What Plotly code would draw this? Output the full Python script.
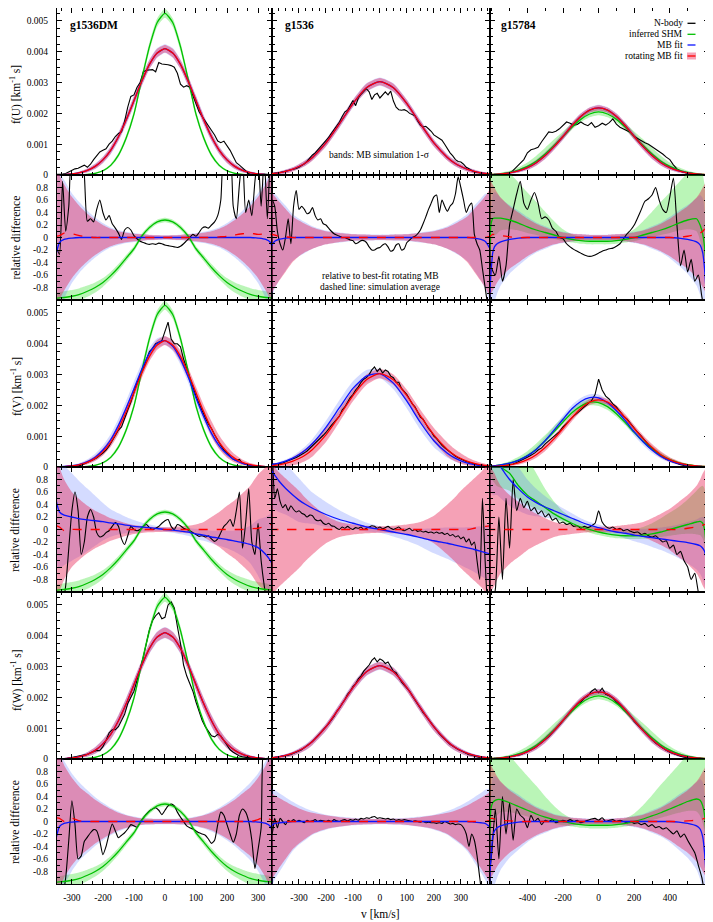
import plotly.graph_objects as go
from plotly.subplots import make_subplots

SCALE = 1e-3   # f values are read in units of 10^-3 km^-1 s

# ── g1536DM (column 1) ───────────────────────────────────────────────────────
X1 = [-350, -340, -325, -300, -275, -250, -225, -200, -175, -150, -125, -100, -75, -50, -25, 0,
      25, 50, 75, 100, 125, 150, 175, 200, 225, 250, 275, 300, 325, 340, 350]
RED_F1 = [0.006, 0.009, 0.015, 0.034, 0.074, 0.15, 0.28, 0.49, 0.80, 1.24, 1.79, 2.41, 3.04, 3.59, 3.96, 4.10,
          3.96, 3.59, 3.04, 2.41, 1.79, 1.24, 0.80, 0.49, 0.28, 0.15, 0.074, 0.034, 0.015, 0.009, 0.006]
GREEN_RD1 = [-0.97, -0.965, -0.96, -0.94, -0.91, -0.86, -0.80, -0.72, -0.61, -0.48, -0.33, -0.18, 0.02, 0.16, 0.25, 0.28,
             0.25, 0.16, 0.02, -0.18, -0.33, -0.48, -0.61, -0.72, -0.80, -0.86, -0.91, -0.94, -0.96, -0.965, -0.97]
GREEN_HW1 = [0.09, 0.09, 0.1, 0.1, 0.1, 0.09, 0.08, 0.07, 0.06, 0.055, 0.05, 0.045, 0.04, 0.04, 0.035, 0.035,
             0.035, 0.04, 0.04, 0.045, 0.05, 0.055, 0.06, 0.07, 0.08, 0.09, 0.1, 0.1, 0.1, 0.09, 0.09]
BLUE_RD1_U = [-0.25, -0.08, -0.03, -0.01, 0, 0, 0, 0, 0, 0, 0, 0, 0, 0, 0, 0,
              0, 0, 0, 0, 0, 0, 0, 0, 0, 0, 0, -0.01, -0.03, -0.08, -0.25]
BLUE_RD1_V = [0.45, 0.28, 0.23, 0.2, 0.17, 0.155, 0.14, 0.125, 0.105, 0.09, 0.07, 0.05, 0.04, 0.03, 0.015, 0.0,
              -0.01, -0.025, -0.04, -0.07, -0.09, -0.12, -0.14, -0.16, -0.185, -0.21, -0.24, -0.29, -0.4, -0.5, -0.6]
PINK1_U = [1.2, 1.0, 0.85, 0.65, 0.5, 0.38, 0.28, 0.2, 0.14, 0.1, 0.075, 0.06, 0.05, 0.04, 0.035, 0.03,
           0.035, 0.04, 0.05, 0.06, 0.075, 0.1, 0.14, 0.2, 0.28, 0.38, 0.5, 0.65, 0.85, 1.0, 1.2]
PINK1_V = [1.2, 1.0, 0.8, 0.6, 0.48, 0.38, 0.3, 0.24, 0.18, 0.14, 0.1, 0.07, 0.055, 0.045, 0.04, 0.035,
           0.04, 0.05, 0.06, 0.08, 0.12, 0.2, 0.28, 0.38, 0.47, 0.58, 0.7, 0.88, 1.0, 1.1, 1.2]
PINK1_W = [1.3, 1.1, 0.9, 0.7, 0.55, 0.45, 0.35, 0.27, 0.2, 0.14, 0.1, 0.07, 0.05, 0.045, 0.04, 0.04,
           0.04, 0.045, 0.05, 0.07, 0.1, 0.14, 0.2, 0.27, 0.35, 0.45, 0.55, 0.7, 0.9, 1.1, 1.3]
BLUEHW1_U = [1.3, 1.1, 0.95, 0.72, 0.56, 0.43, 0.32, 0.23, 0.16, 0.12, 0.09, 0.07, 0.055, 0.045, 0.04, 0.035,
             0.04, 0.045, 0.055, 0.07, 0.09, 0.12, 0.16, 0.23, 0.32, 0.43, 0.56, 0.72, 0.95, 1.1, 1.3]
BLUEHW1_V = [1.0, 0.9, 0.8, 0.7, 0.6, 0.5, 0.4, 0.3, 0.22, 0.17, 0.13, 0.1, 0.07, 0.05, 0.04, 0.035,
             0.04, 0.05, 0.06, 0.08, 0.09, 0.1, 0.12, 0.14, 0.17, 0.22, 0.3, 0.45, 0.6, 0.75, 0.9]
BLUEHW1_W = [1.4, 1.2, 1.0, 0.78, 0.62, 0.5, 0.39, 0.3, 0.22, 0.16, 0.11, 0.08, 0.055, 0.05, 0.045, 0.045,
             0.045, 0.05, 0.055, 0.08, 0.11, 0.16, 0.22, 0.3, 0.39, 0.5, 0.62, 0.78, 1.0, 1.2, 1.4]
DASH1_U = [0.02, 0.03, 0.07, 0.06, 0.03, 0.01, 0, 0, 0, 0, 0, 0, 0, 0, 0, 0,
           0, 0, 0, 0, 0, 0, 0.01, 0.02, 0.04, 0.06, 0.07, 0.05, 0.06, 0.04, 0.1]
DASH1_V = [0.06, 0.04, -0.02, 0.0, 0.0, 0, 0, 0, 0, 0, 0, 0, 0, 0, 0, 0,
           0, 0, 0, 0, 0, 0, 0, 0, 0, 0, 0.01, 0.02, 0.05, 0.08, 0.1]
DASH1_W = [0.06, 0.05, 0.0, 0.05, 0.01, 0, 0, 0, 0, 0, 0, 0, 0, 0, 0, 0,
           0, 0, 0, 0, 0, 0, 0, 0, 0, 0, 0.0, 0.03, 0.08, 0.03, 0.05]

XB1 = list(range(-350, 351, 10))
BLACK_F1_U = [0.02, 0.02, 0.03, 0.05, 0.1, 0.15, 0.2, 0.22, 0.28, 0.32,
              0.25, 0.35, 0.5, 0.62, 0.75, 0.8, 0.85, 1.0, 1.1, 1.25,
              1.35, 1.4, 1.75, 2.2, 2.55, 2.6, 2.85, 3.0, 3.35, 3.4,
              3.4, 3.42, 3.35, 3.65, 3.6, 3.6, 3.58, 3.55, 3.5, 3.3,
              2.95, 2.85, 2.9, 2.85, 2.6, 2.35, 2.05, 1.9, 1.75, 1.6,
              1.45, 1.3, 1.1, 1.05, 1.1, 0.95, 0.8, 0.6, 0.4, 0.32,
              0.22, 0.15, 0.05, 0.0, 0.0, 0.02, 0.02, 0.03, 0.02, 0.01, 0.0]
BLACK_RD1_U = [-0.15, -0.27, 0.9, 0.1, 0.5, 1.3, 1.3, 1.3, 1.3, 1.0,
               0.26, 0.3, 0.25, 0.45, 0.6, 0.4, 0.28, 0.35, 0.22, 0.15,
               0.07, -0.03, 0.12, 0.16, 0.12, 0.03, -0.02, -0.06, -0.08, -0.1,
               -0.11, -0.1, -0.11, -0.09, -0.1, -0.12, -0.13, -0.14, -0.15, -0.16,
               -0.14, -0.1, -0.05, 0.0, 0.05, 0.02, 0.08, 0.15, 0.17, 0.15,
               0.2, 0.25, 0.35, 0.6, 1.3, 1.3, 1.3, 0.5, 0.3, 0.85,
               1.3, 0.4, 0.6, 0.35, 0.9, 1.3, 0.5, 1.3, 0.3, 1.3, -0.1]
BLACK_F1_V = [0, 0, 0, 0, 0.01, 0.02, 0.03, 0.03, 0.06, 0.1,
              0.14, 0.18, 0.24, 0.3, 0.37, 0.45, 0.55, 0.68, 0.85, 1.05,
              1.2, 1.3, 1.6, 1.85, 2.1, 2.4, 2.75, 2.95, 3.2, 3.5,
              3.75, 3.85, 4.0, 4.05, 4.1, 4.4, 4.7, 4.15, 4.0, 4.0,
              3.9, 3.5, 3.2, 2.85, 2.55, 2.3, 2.05, 1.8, 1.6, 1.4,
              1.25, 1.05, 0.85, 0.7, 0.55, 0.45, 0.35, 0.25, 0.22, 0.25,
              0.12, 0.08, 0.06, 0.05, 0.05, 0.03, 0.02, 0.01, 0, 0, 0]
BLACK_RD1_V = [-1.3, -1.3, -1.2, -0.9, -0.3, 0.3, 0.6, 0.3, -0.4, -0.2,
               0.2, 0.32, 0.2, -0.05, -0.12, -0.1, -0.05, -0.02, 0.05, 0.11,
               0.05, -0.15, -0.24, -0.1, 0.05, 0.0, -0.02, 0.0, 0.05, 0.08,
               0.03, 0.0, 0.02, 0.05, 0.1, 0.14, 0.16, 0.05, 0.0, 0.08,
               0.06, 0.02, 0.0, -0.02, -0.05, -0.08, -0.11, -0.1, -0.12, -0.1,
               -0.15, -0.19, -0.15, -0.05, 0.05, 0.1, 0.16, 0.05, 0.3, 0.6,
               -0.3, 0.1, 0.65, -0.2, -0.4, 0.1, -0.5, -0.9, -1.2, -1.3, -1.3]
BLACK_F1_W = [0, 0, 0, 0.01, 0.03, 0.05, 0.08, 0.1, 0.12, 0.13,
              0.15, 0.2, 0.25, 0.28, 0.27, 0.4, 0.6, 0.85, 0.95, 0.95,
              1.05, 1.25, 1.45, 1.8, 2.0, 2.2, 2.55, 2.9, 3.3, 3.75,
              4.2, 4.5, 4.65, 4.75, 4.55, 4.6, 5.0, 5.1, 4.9, 4.3,
              3.75, 3.05, 2.7, 2.45, 2.2, 1.85, 1.55, 1.25, 1.05, 0.9,
              0.75, 0.72, 0.8, 0.75, 0.6, 0.45, 0.3, 0.22, 0.15, 0.1,
              0.07, 0.05, 0.04, 0.03, 0.03, 0.01, 0.0, 0.0, 0.02, 0.0, 0.0]
BLACK_RD1_W = [-1.3, -1.3, -1.2, -0.9, -0.3, 0.33, -0.05, -0.6, -0.55, -0.32,
               -0.25, -0.18, -0.13, -0.15, -0.31, -0.53, -0.4, -0.2, -0.04, -0.15,
               -0.26, -0.22, -0.18, -0.12, -0.05, -0.07, -0.09, -0.02, 0.06, 0.12,
               0.17, 0.2, 0.22, 0.18, 0.11, 0.18, 0.25, 0.28, 0.25, 0.15,
               0.07, 0.0, -0.07, -0.1, -0.12, -0.15, -0.18, -0.2, -0.22, -0.28,
               -0.35, -0.3, -0.05, 0.15, 0.1, -0.05, -0.2, -0.33, -0.2, 0.1,
               0.2, 0.15, 0.0, -0.3, -0.75, -0.45, -0.1, 1.3, 1.3, 1.3, 1.3]

# ── g1536 (column 2) ─────────────────────────────────────────────────────────
X2 = [-410, -400, -390, -375, -350, -325, -300, -275, -250, -200, -150, -100, -50, 0,
      50, 100, 150, 200, 250, 275, 300, 325, 350, 375, 390, 400, 410]
RED_F2 = [0.034, 0.043, 0.053, 0.072, 0.116, 0.18, 0.275, 0.40, 0.57, 1.04, 1.66, 2.32, 2.835, 3.03,
          2.835, 2.32, 1.66, 1.04, 0.57, 0.40, 0.275, 0.18, 0.116, 0.072, 0.053, 0.043, 0.034]
BLUE_RD2_U = [-0.2, -0.12, -0.06, -0.03, -0.01, 0, 0, 0, 0, 0, 0, 0, 0, 0,
              0, 0, 0, 0, 0, 0, 0, 0, -0.01, -0.03, -0.06, -0.12, -0.2]
BLUE_RD2_V = [1.0, 0.93, 0.87, 0.78, 0.66, 0.56, 0.47, 0.4, 0.34, 0.24, 0.16, 0.1, 0.04, 0.0,
              -0.04, -0.08, -0.13, -0.18, -0.22, -0.245, -0.27, -0.295, -0.32, -0.35, -0.37, -0.38, -0.4]
BLUE_RD2_W = [-0.1, -0.06, -0.03, -0.02, -0.01, 0, 0, 0, 0, 0, 0, 0, 0, 0,
              0, 0, 0, 0, 0, 0, 0, 0, -0.01, -0.02, -0.03, -0.06, -0.1]
PINK2_U = [0.8, 0.72, 0.66, 0.58, 0.46, 0.34, 0.27, 0.21, 0.16, 0.1, 0.07, 0.05, 0.045, 0.04,
           0.045, 0.05, 0.07, 0.1, 0.16, 0.21, 0.27, 0.34, 0.46, 0.58, 0.66, 0.72, 0.8]
PINK2_U_LO = [0.95, 0.88, 0.8, 0.7, 0.55, 0.4, 0.3, 0.23, 0.18, 0.11, 0.07, 0.05, 0.045, 0.04,
              0.045, 0.05, 0.07, 0.11, 0.18, 0.23, 0.3, 0.4, 0.55, 0.7, 0.8, 0.88, 0.95]
PINK2_V = [1.1, 1.05, 1.0, 0.92, 0.82, 0.72, 0.62, 0.5, 0.4, 0.22, 0.12, 0.08, 0.06, 0.05,
           0.06, 0.08, 0.12, 0.22, 0.4, 0.5, 0.62, 0.72, 0.82, 0.92, 1.0, 1.05, 1.1]
PINK2_W = [0.48, 0.45, 0.42, 0.38, 0.32, 0.26, 0.21, 0.17, 0.14, 0.1, 0.07, 0.05, 0.045, 0.04,
           0.045, 0.05, 0.07, 0.1, 0.14, 0.17, 0.21, 0.26, 0.32, 0.38, 0.42, 0.45, 0.48]
PINK2_W_LO = [1.0, 0.92, 0.85, 0.75, 0.6, 0.45, 0.35, 0.27, 0.2, 0.12, 0.08, 0.055, 0.045, 0.04,
              0.045, 0.055, 0.08, 0.12, 0.2, 0.27, 0.35, 0.45, 0.6, 0.75, 0.85, 0.92, 1.0]
BLUEHW2_U = [0.9, 0.82, 0.76, 0.66, 0.52, 0.38, 0.3, 0.24, 0.18, 0.11, 0.08, 0.055, 0.05, 0.045,
             0.05, 0.055, 0.08, 0.11, 0.18, 0.24, 0.3, 0.38, 0.52, 0.66, 0.76, 0.82, 0.9]
BLUEHW2_V = [0.65, 0.6, 0.55, 0.5, 0.42, 0.38, 0.35, 0.3, 0.25, 0.2, 0.15, 0.1, 0.07, 0.05,
             0.07, 0.1, 0.14, 0.2, 0.25, 0.28, 0.3, 0.33, 0.36, 0.4, 0.42, 0.45, 0.5]
BLUEHW2_W = [0.62, 0.58, 0.54, 0.48, 0.4, 0.32, 0.26, 0.21, 0.17, 0.11, 0.08, 0.06, 0.05, 0.045,
             0.05, 0.06, 0.08, 0.11, 0.17, 0.21, 0.26, 0.32, 0.4, 0.48, 0.54, 0.58, 0.62]
BLUEHW2_W_LO = [1.05, 0.97, 0.9, 0.8, 0.64, 0.48, 0.37, 0.29, 0.21, 0.13, 0.085, 0.06, 0.05, 0.045,
                0.05, 0.06, 0.085, 0.13, 0.21, 0.29, 0.37, 0.48, 0.64, 0.8, 0.9, 0.97, 1.05]
DASH2_U = [0.06, 0.05, 0.04, 0.02, 0.01, 0, 0, 0, 0, 0, 0, 0, 0, 0,
           0, 0, 0, 0, 0, 0, 0, 0, 0, 0, 0, 0.01, 0.02]
DASH2_V = [0, 0, 0, 0, 0, 0, 0, 0, 0, 0, 0, 0, 0, 0,
           0, 0, 0, 0, 0, 0, 0, 0, 0.02, 0.04, 0.05, 0.055, 0.06]
DASH2_W = [0.02, 0.01, 0, 0, 0, 0, 0, 0, 0, 0, 0, 0, 0, 0,
           0, 0, 0, 0, 0, 0, 0, 0, 0, 0, 0, 0.01, 0.02]

XB2 = list(range(-410, 411, 10))
BLACK_F2_U = [0.03, 0.05, 0.06, 0.07, 0.08, 0.1, 0.12, 0.15, 0.18, 0.18,
              0.21, 0.25, 0.3, 0.36, 0.45, 0.56, 0.65, 0.72, 0.82, 0.9,
              1.0, 1.1, 1.22, 1.35, 1.48, 1.6, 1.72, 1.9, 2.05, 2.1,
              2.25, 2.42, 2.25, 2.5, 2.62, 2.7, 2.8, 2.7, 2.45, 2.6,
              2.65, 2.5, 2.6, 2.7, 2.6, 2.72, 2.4, 2.2, 2.12, 2.1,
              2.12, 2.08, 2.0, 1.95, 1.92, 1.75, 1.62, 1.56, 1.58, 1.5,
              1.42, 1.3, 1.24, 1.2, 1.13, 1.0, 0.85, 0.72, 0.62, 0.5,
              0.44, 0.42, 0.35, 0.25, 0.2, 0.15, 0.1, 0.08, 0.06, 0.05,
              0.04, 0.03, 0.02]
BLACK_RD2_U = [0.55, 0.6, 0.5, 0.1, -0.1, -0.2, 0.0, 0.3, -0.1, 0.5,
               0.75, 0.45, 0.5, 0.45, 0.38, 0.4, 0.48, 0.35, 0.28, 0.3,
               0.22, 0.2, 0.15, 0.1, 0.06, 0.04, 0.02, 0.0, 0.0, -0.02,
               -0.04, -0.05, -0.1, -0.08, -0.05, -0.05, -0.08, -0.15, -0.2, -0.2,
               -0.17, -0.16, -0.12, -0.1, -0.15, -0.22, -0.2, -0.12, -0.1, -0.2,
               -0.18, -0.08, -0.04, 0.0, 0.02, 0.06, 0.12, 0.22, 0.33, 0.45,
               0.55, 0.65, 0.68, 0.4, 0.6, 0.5, 0.42, 0.5, 0.55, 0.7,
               0.97, 0.8, 0.6, 0.4, 0.5, 0.55, 0.05, -0.1, -0.2, -0.5,
               -0.8, -1.1, -1.3]
BLACK_F2_V = [0.08, 0.1, 0.09, 0.1, 0.12, 0.13, 0.17, 0.2, 0.23, 0.27,
              0.31, 0.36, 0.4, 0.46, 0.52, 0.6, 0.7, 0.78, 0.86, 0.95,
              1.03, 1.12, 1.25, 1.35, 1.45, 1.55, 1.65, 1.85, 1.95, 2.1,
              2.25, 2.35, 2.5, 2.6, 2.75, 2.85, 2.9, 3.0, 3.15, 3.25,
              3.1, 3.2, 3.05, 3.15, 3.1, 2.95, 2.9, 2.75, 2.75, 2.55,
              2.45, 2.35, 2.2, 2.05, 1.95, 1.8, 1.62, 1.55, 1.38, 1.25,
              1.15, 1.0, 0.92, 0.8, 0.7, 0.62, 0.55, 0.48, 0.4, 0.35,
              0.3, 0.25, 0.22, 0.18, 0.15, 0.12, 0.1, 0.08, 0.05, 0.06,
              0.02, 0.01, 0.0]
BLACK_RD2_V = [1.3, 1.2, 0.5, 0.65, 0.45, 0.35, 0.4, 0.3, 0.38, 0.32,
               0.28, 0.3, 0.26, 0.24, 0.2, 0.23, 0.22, 0.16, 0.14, 0.15,
               0.1, 0.08, 0.1, 0.06, 0.05, 0.02, 0.0, 0.04, 0.02, 0.05,
               0.02, 0.0, 0.03, 0.02, 0.04, 0.0, 0.02, 0.04, 0.06, 0.05,
               0.02, 0.04, 0.01, 0.03, 0.05, 0.02, 0.0, 0.02, 0.04, 0.0,
               -0.02, 0.0, 0.02, -0.02, 0.0, -0.03, -0.02, -0.04, -0.03, -0.05,
               -0.04, -0.06, -0.04, -0.06, -0.05, -0.08, -0.06, -0.1, -0.08, -0.12,
               -0.1, -0.15, -0.12, -0.2, -0.15, -0.25, -0.2, -0.5, -0.8, 0.5,
               -0.5, -1.2, -1.3]
BLACK_F2_W = [0.03, 0.04, 0.05, 0.06, 0.07, 0.09, 0.1, 0.12, 0.15, 0.19,
              0.22, 0.27, 0.3, 0.37, 0.43, 0.5, 0.57, 0.66, 0.75, 0.85,
              0.93, 1.05, 1.15, 1.27, 1.38, 1.55, 1.65, 1.8, 1.92, 2.1,
              2.2, 2.35, 2.45, 2.6, 2.7, 2.85, 2.95, 3.05, 3.2, 3.28,
              3.15, 3.25, 3.2, 3.1, 3.15, 3.0, 2.85, 2.8, 2.65, 2.5,
              2.4, 2.3, 2.2, 2.05, 1.9, 1.78, 1.65, 1.5, 1.4, 1.28,
              1.15, 1.02, 0.92, 0.82, 0.73, 0.64, 0.56, 0.48, 0.42, 0.36,
              0.31, 0.27, 0.22, 0.18, 0.14, 0.12, 0.09, 0.07, 0.05, 0.03,
              0.02, 0.02, 0.01]
BLACK_RD2_W = [-0.15, -0.2, 0.05, -0.1, 0.05, 0.0, -0.05, 0.02, 0.0, 0.03,
               0.0, 0.02, 0.0, -0.02, 0.02, 0.0, 0.01, 0.03, 0.0, 0.02,
               0.01, 0.0, 0.02, 0.0, 0.03, 0.01, 0.0, 0.02, 0.03, 0.01,
               0.03, 0.02, 0.04, 0.02, 0.05, 0.04, 0.06, 0.05, 0.07, 0.08,
               0.05, 0.06, 0.05, 0.04, 0.05, 0.03, 0.04, 0.02, 0.03, 0.02,
               0.03, 0.02, 0.01, 0.0, 0.01, 0.0, -0.01, 0.0, -0.02, -0.01,
               -0.02, -0.02, -0.03, -0.02, -0.03, 0.0, -0.02, -0.04, -0.03, -0.05,
               -0.04, -0.05, -0.1, -0.2, -0.4, -0.2, -0.3, -0.55, -0.9, -1.2,
               -1.3, -1.3, -1.3]

# ── g15784 (column 3) ────────────────────────────────────────────────────────
X3 = [-630, -615, -605, -595, -585, -570, -550, -500, -450, -400, -350, -300, -250, -200, -150, -100, -50, 0,
      50, 100, 150, 200, 250, 300, 350, 400, 450, 500, 550, 570, 585, 595, 605, 615, 630]
RED_F3 = [0.009, 0.0116, 0.0137, 0.016, 0.019, 0.024, 0.033, 0.068, 0.132, 0.238, 0.40, 0.63, 0.92, 1.25, 1.60, 1.90, 2.106, 2.18,
          2.106, 1.90, 1.60, 1.25, 0.92, 0.63, 0.40, 0.238, 0.132, 0.068, 0.033, 0.024, 0.019, 0.016, 0.0137, 0.0116, 0.009]
GREEN_RD3_U = [-1.0, -0.5, 0.2, 0.3, 0.31, 0.31, 0.31, 0.28, 0.23, 0.17, 0.12, 0.08, 0.04, 0.0, -0.03, -0.05, -0.06, -0.06,
               -0.06, -0.05, -0.03, 0.0, 0.04, 0.08, 0.12, 0.17, 0.23, 0.28, 0.3, 0.2, 0.05, -0.15, -0.45, -0.8, -1.0]
GREEN_HI3_U = [1.0, 1.0, 1.0, 1.0, 0.95, 0.9, 0.85, 0.75, 0.65, 0.55, 0.45, 0.33, 0.22, 0.13, 0.08, 0.06, 0.05, 0.05,
               0.05, 0.06, 0.08, 0.13, 0.22, 0.33, 0.45, 0.55, 0.65, 0.75, 0.85, 0.9, 0.95, 1.0, 1.0, 1.0, 1.0]
GREEN_LO3_U = [0.4, 0.4, 0.35, 0.3, 0.28, 0.25, 0.2, 0.15, 0.12, 0.1, 0.08, 0.07, 0.06, 0.06, 0.05, 0.05, 0.05, 0.05,
               0.05, 0.05, 0.05, 0.06, 0.06, 0.07, 0.08, 0.1, 0.12, 0.15, 0.2, 0.25, 0.28, 0.3, 0.35, 0.4, 0.4]
GREEN_RD3_V = [1.5, 1.4, 1.3, 1.2, 1.15, 1.05, 1.0, 0.9, 0.7, 0.55, 0.45, 0.35, 0.25, 0.17, 0.1, 0.04, 0.0, -0.04,
               -0.07, -0.09, -0.1, -0.1, -0.09, -0.07, -0.04, 0.0, 0.04, 0.08, 0.12, 0.13, 0.1, 0.0, -0.3, -0.7, -1.0]
GREEN_HI3_V = [1.0, 1.0, 1.0, 1.0, 1.0, 1.0, 1.0, 0.9, 0.8, 0.6, 0.45, 0.3, 0.2, 0.12, 0.08, 0.06, 0.05, 0.05,
               0.05, 0.06, 0.08, 0.1, 0.13, 0.17, 0.22, 0.27, 0.32, 0.4, 0.5, 0.55, 0.6, 0.65, 0.7, 0.75, 0.8]
GREEN_LO3_V = [0.5, 0.5, 0.45, 0.42, 0.4, 0.36, 0.33, 0.28, 0.22, 0.16, 0.12, 0.09, 0.07, 0.06, 0.05, 0.05, 0.05, 0.05,
               0.05, 0.05, 0.05, 0.05, 0.06, 0.07, 0.08, 0.1, 0.12, 0.15, 0.2, 0.22, 0.25, 0.28, 0.3, 0.35, 0.4]
GREEN_RD3_W = [-1.0, -0.5, 0.2, 0.3, 0.33, 0.35, 0.35, 0.3, 0.24, 0.18, 0.12, 0.07, 0.03, 0.0, -0.03, -0.05, -0.06, -0.06,
               -0.06, -0.05, -0.03, 0.0, 0.04, 0.09, 0.14, 0.2, 0.26, 0.32, 0.36, 0.34, 0.25, 0.1, -0.3, -0.7, -1.0]
BLUE_RD3_U = [-1.2, -1.0, -0.6, -0.25, -0.15, -0.1, -0.07, -0.03, -0.01, 0, 0, 0, 0, 0, 0, 0, 0, 0,
              0, 0, 0, 0, 0, 0, 0, 0, -0.01, -0.03, -0.07, -0.12, -0.25, -0.5, -0.9, -1.1, -1.3]
BLUE_RD3_V = [1.5, 1.4, 1.3, 1.2, 1.15, 1.1, 1.0, 0.8, 0.65, 0.52, 0.43, 0.36, 0.3, 0.24, 0.18, 0.12, 0.07, 0.03,
              -0.01, -0.04, -0.06, -0.09, -0.11, -0.13, -0.15, -0.17, -0.19, -0.21, -0.24, -0.26, -0.3, -0.35, -0.5, -0.8, -1.1]
PINK3_U = [1.1, 1.0, 0.9, 0.85, 0.8, 0.72, 0.64, 0.5, 0.4, 0.3, 0.22, 0.16, 0.11, 0.08, 0.06, 0.05, 0.04, 0.04,
           0.04, 0.05, 0.06, 0.08, 0.11, 0.16, 0.22, 0.3, 0.4, 0.5, 0.64, 0.72, 0.8, 0.85, 0.9, 1.0, 1.1]
PINK3_V = [1.2, 1.1, 1.0, 0.95, 0.9, 0.8, 0.7, 0.55, 0.44, 0.33, 0.25, 0.18, 0.12, 0.09, 0.07, 0.055, 0.045, 0.045,
           0.045, 0.055, 0.07, 0.09, 0.12, 0.18, 0.25, 0.33, 0.44, 0.55, 0.7, 0.8, 0.9, 0.95, 1.0, 1.1, 1.2]
BLUEHW3_U = [1.2, 1.1, 1.0, 0.94, 0.88, 0.8, 0.7, 0.55, 0.44, 0.33, 0.24, 0.18, 0.12, 0.09, 0.065, 0.055, 0.045, 0.045,
             0.045, 0.055, 0.065, 0.09, 0.12, 0.18, 0.24, 0.33, 0.44, 0.55, 0.7, 0.8, 0.88, 0.94, 1.0, 1.1, 1.2]
BLUEHW3_V = [0.8, 0.75, 0.7, 0.65, 0.6, 0.55, 0.5, 0.42, 0.35, 0.28, 0.22, 0.17, 0.13, 0.1, 0.08, 0.06, 0.05, 0.05,
             0.05, 0.06, 0.08, 0.1, 0.12, 0.15, 0.18, 0.22, 0.27, 0.33, 0.4, 0.45, 0.5, 0.55, 0.6, 0.65, 0.7]
DASH3_U = [0.0, 0.0, 0.03, 0.05, 0.05, 0.04, 0.03, 0.01, 0, 0, 0, 0, 0, 0, 0, 0, 0, 0,
           0, 0, 0, 0, 0, 0, 0, 0, 0, 0.02, 0.05, 0.07, 0.1, 0.13, 0.15, 0.17, 0.18]
DASH3_V = [0, 0, 0, 0, 0, 0, 0, 0, 0, 0, 0, 0, 0, 0, 0, 0, 0, 0,
           0, 0, 0, 0, 0, 0, 0, 0, 0, 0.02, 0.04, 0.05, 0.07, 0.08, 0.09, 0.1, 0.1]
DASH3_W = [0.05, 0.05, 0.05, 0.05, 0.04, 0.03, 0.02, 0.01, 0, 0, 0, 0, 0, 0, 0, 0, 0, 0,
           0, 0, 0, 0, 0, 0, 0, 0, 0, 0.01, 0.02, 0.03, 0.04, 0.05, 0.05, 0.05, 0.05]

XB3 = list(range(-620, 621, 20))
BLACK_F3_U = [0, 0, 0, 0.01, 0.02, 0.04, 0.06, 0.15, 0.27, 0.38,
              0.5, 0.72, 0.82, 0.85, 0.9, 1.08, 1.25, 1.4, 1.38, 1.42,
              1.5, 1.62, 1.72, 1.68, 1.62, 1.64, 1.72, 1.65, 1.6, 1.7,
              1.55, 1.6, 1.68, 1.62, 1.7, 1.82, 1.65, 1.55, 1.5, 1.45,
              1.38, 1.25, 1.18, 1.12, 1.05, 1.0, 0.92, 0.85, 0.75, 0.68,
              0.58, 0.5, 0.33, 0.2, 0.12, 0.08, 0.05, 0.03, 0.02, 0.01,
              0.0, 0.0, 0.0]
BLACK_RD3_U = [-0.3, -0.5, -0.6, -0.3, -0.7, -0.45, 0.2, 0.45, 0.7, 0.9,
               0.55, 0.45, 0.6, 0.72, 0.55, 0.3, 0.33, 0.28, 0.15, 0.1,
               0.0, -0.02, -0.1, -0.15, -0.19, -0.22, -0.25, -0.28, -0.3, -0.3,
               -0.28, -0.25, -0.22, -0.2, -0.18, -0.17, -0.14, -0.1, -0.02, 0.06,
               0.12, 0.2, 0.32, 0.45, 0.58, 0.62, 0.68, 0.8, 0.6, 0.45,
               0.4, 0.65, 0.95, 0.2, -0.45, -0.2, -0.55, -0.35, -0.7, -0.6,
               -0.95, -1.2, -1.3]
BLACK_F3_V = [0, 0.0, 0.01, 0.02, 0.03, 0.05, 0.08, 0.1, 0.15, 0.2,
              0.25, 0.32, 0.38, 0.45, 0.55, 0.62, 0.75, 0.85, 0.95, 1.05,
              1.15, 1.3, 1.42, 1.55, 1.65, 1.75, 1.85, 1.95, 2.05, 2.15,
              2.35, 2.85, 2.5, 2.3, 2.2, 2.05, 1.95, 1.8, 1.65, 1.55,
              1.4, 1.25, 1.12, 1.0, 0.85, 0.72, 0.6, 0.5, 0.4, 0.32,
              0.25, 0.2, 0.15, 0.1, 0.07, 0.05, 0.03, 0.02, 0.01, 0.01,
              0, 0, 0]
BLACK_RD3_V = [-1.3, -1.2, -0.96, 0.2, -0.8, 0.5, -0.3, 0.8, 0.3, 0.5,
               0.35, 0.45, 0.3, 0.35, 0.25, 0.3, 0.2, 0.25, 0.15, 0.18,
               0.1, 0.12, 0.08, 0.1, 0.05, 0.06, 0.02, 0.05, 0.03, 0.06,
               0.1, 0.3, 0.12, 0.05, 0.02, 0.04, 0.0, 0.02, -0.02, 0.0,
               -0.03, -0.05, -0.04, -0.08, -0.06, -0.1, -0.12, -0.1, -0.15, -0.2,
               -0.18, -0.3, -0.25, -0.4, -0.35, -0.5, -0.6, -0.8, -0.7, -1.0,
               -1.2, -1.3, -1.3]
BLACK_F3_W = [0, 0, 0.01, 0.02, 0.03, 0.05, 0.07, 0.08, 0.1, 0.14,
              0.19, 0.24, 0.3, 0.36, 0.45, 0.53, 0.63, 0.73, 0.85, 0.98,
              1.1, 1.25, 1.38, 1.52, 1.62, 1.78, 1.85, 1.98, 2.05, 2.2,
              2.28, 2.15, 2.3, 2.1, 2.05, 1.98, 1.85, 1.75, 1.6, 1.5,
              1.38, 1.22, 1.1, 0.97, 0.85, 0.72, 0.62, 0.52, 0.43, 0.35,
              0.28, 0.22, 0.17, 0.12, 0.09, 0.06, 0.04, 0.03, 0.02, 0.01,
              0.01, 0, 0]
BLACK_RD3_W = [-1.0, -0.5, 0.2, -0.6, 0.4, -0.2, 0.3, -0.3, 0.2, 0.1,
               0.05, -0.1, 0.1, 0.0, 0.05, -0.05, 0.02, 0.0, 0.03, -0.02,
               0.0, 0.02, 0.0, 0.03, 0.0, 0.02, -0.02, 0.0, 0.02, 0.04,
               0.05, 0.02, 0.06, 0.0, 0.02, 0.03, 0.0, 0.02, 0.0, -0.02,
               0.0, -0.03, -0.02, -0.05, -0.03, -0.08, -0.05, -0.1, -0.08, -0.12,
               -0.1, -0.15, -0.2, -0.15, -0.25, -0.2, -0.3, -0.4, -0.5, -0.7,
               -0.9, -1.2, -1.3]

# ── Styling ──────────────────────────────────────────────────────────────────
FONT = "Liberation Serif, Times New Roman, serif"
C_BLACK = "#000000"
C_GREEN = "#00c000"
C_BLUE = "#0a14ff"
C_RED = "#ff0000"
B_GREEN = "rgba(40,225,30,0.32)"
B_BLUE = "rgba(60,90,255,0.22)"
B_RED = "rgba(230,30,80,0.42)"

COLUMNS = [
    dict(x=X1, xb=XB1, red=RED_F1, xrange=[-348, 345], ticks=[-300, -200, -100, 0, 100, 200, 300], minor=100 / 3,
         comps=[
             dict(g=GREEN_RD1, ghi=GREEN_HW1, glo=GREEN_HW1, b=BLUE_RD1_U, bhw=BLUEHW1_U, p=PINK1_U,
                  d=DASH1_U, bf=BLACK_F1_U, brd=BLACK_RD1_U),
             dict(g=GREEN_RD1, ghi=GREEN_HW1, glo=GREEN_HW1, b=BLUE_RD1_V, bhw=BLUEHW1_V, p=PINK1_V,
                  d=DASH1_V, bf=BLACK_F1_V, brd=BLACK_RD1_V),
             dict(g=GREEN_RD1, ghi=GREEN_HW1, glo=GREEN_HW1, b=BLUE_RD1_U, bhw=BLUEHW1_W, p=PINK1_W,
                  d=DASH1_W, bf=BLACK_F1_W, brd=BLACK_RD1_W),
         ]),
    dict(x=X2, xb=XB2, red=RED_F2, xrange=[-400, 408], ticks=[-300, -200, -100, 0, 100, 200, 300], minor=25,
         comps=[
             dict(g=None, b=BLUE_RD2_U, bhw=BLUEHW2_U, p=PINK2_U, plo=PINK2_U_LO, d=DASH2_U,
                  bf=BLACK_F2_U, brd=BLACK_RD2_U),
             dict(g=None, b=BLUE_RD2_V, bhw=BLUEHW2_V, p=PINK2_V, d=DASH2_V, bf=BLACK_F2_V, brd=BLACK_RD2_V),
             dict(g=None, b=BLUE_RD2_W, bhw=BLUEHW2_W, blo=BLUEHW2_W_LO, p=PINK2_W, plo=PINK2_W_LO, d=DASH2_W,
                  bf=BLACK_F2_W, brd=BLACK_RD2_W),
         ]),
    dict(x=X3, xb=XB3, red=RED_F3, xrange=[-610, 620], ticks=[-400, -200, 0, 200, 400], minor=100,
         comps=[
             dict(g=GREEN_RD3_U, ghi=GREEN_HI3_U, glo=GREEN_LO3_U, b=BLUE_RD3_U, bhw=BLUEHW3_U, p=PINK3_U,
                  d=DASH3_U, bf=BLACK_F3_U, brd=BLACK_RD3_U),
             dict(g=GREEN_RD3_V, ghi=GREEN_HI3_V, glo=GREEN_LO3_V, b=BLUE_RD3_V, bhw=BLUEHW3_V, p=PINK3_V,
                  d=DASH3_V, bf=BLACK_F3_V, brd=BLACK_RD3_V),
             dict(g=GREEN_RD3_W, ghi=GREEN_HI3_U, glo=GREEN_LO3_U, b=BLUE_RD3_U, bhw=BLUEHW3_U, p=PINK3_U,
                  d=DASH3_W, bf=BLACK_F3_W, brd=BLACK_RD3_W),
         ]),
]

# pixel frame of the plotting area inside the 713 x 922 window;
# the page body adds an 8 px margin, so the figure itself is 8 px smaller
PAGE = 8
L, R, T, B = 57, 709, 8, 884
W_FIG, H_FIG = 713 - PAGE, 922 - PAGE


def px(x):
    return (x - L) / (R - L)


def py(y):
    return (B - y) / (B - T)


fig = make_subplots(rows=6, cols=3, horizontal_spacing=0, vertical_spacing=0,
                    row_heights=[167, 125, 167, 125, 167, 125],
                    column_widths=[215, 218, 219])


def band(x, upper, lower, colour, row, col):
    fig.add_trace(go.Scatter(
        x=list(x) + list(x)[::-1], y=list(upper) + list(lower)[::-1],
        mode="lines", fill="toself", fillcolor=colour,
        line=dict(width=0, shape="spline", smoothing=0.6), hoverinfo="skip",
    ), row=row, col=col)


def line(x, y, colour, row, col, width=1.3, dash=None, shape="spline"):
    fig.add_trace(go.Scatter(
        x=x, y=y, mode="lines",
        line=dict(color=colour, width=width, dash=dash, shape=shape, smoothing=0.6),
        hoverinfo="skip",
    ), row=row, col=col)


for ci, colspec in enumerate(COLUMNS, start=1):
    x, xb, red = colspec["x"], colspec["xb"], colspec["red"]
    zero = [0.0] * len(x)
    for k, comp in enumerate(colspec["comps"]):
        rf, rr = 2 * k + 1, 2 * k + 2
        g, b, p = comp["g"], comp["b"], comp["p"]
        plo = comp.get("plo", p)
        bhi = comp["bhw"]
        blo = comp.get("blo", bhi)

        def f_of(rel):
            return [r * SCALE * (1 + v) for r, v in zip(red, rel)]

        def f_band(mid, hi, lo):
            up = [r * SCALE * (1 + m + h) for r, m, h in zip(red, mid, hi)]
            dn = [max(0.0, r * SCALE * (1 + m - l)) for r, m, l in zip(red, mid, lo)]
            return up, dn

        # ── distribution panel ──
        if g is not None:
            band(x, *f_band(g, comp["ghi"], comp["glo"]), B_GREEN, rf, ci)
        band(x, *f_band(b, bhi, blo), B_BLUE, rf, ci)
        band(x, *f_band(zero, p, plo), B_RED, rf, ci)
        line(xb, [v * SCALE for v in comp["bf"]], C_BLACK, rf, ci, width=1.1, shape="linear")
        if g is not None:
            line(x, f_of(g), C_GREEN, rf, ci)
        line(x, f_of(b), C_BLUE, rf, ci)
        line(x, [r * SCALE for r in red], C_RED, rf, ci)

        # ── relative difference panel ──
        if g is not None:
            band(x, [m + h for m, h in zip(g, comp["ghi"])],
                 [m - h for m, h in zip(g, comp["glo"])], B_GREEN, rr, ci)
        band(x, [m + h for m, h in zip(b, bhi)],
             [m - h for m, h in zip(b, blo)], B_BLUE, rr, ci)
        band(x, p, [-h for h in plo], B_RED, rr, ci)
        line(xb, comp["brd"], C_BLACK, rr, ci, width=1.1)
        if g is not None:
            line(x, g, C_GREEN, rr, ci)
        line(x, b, C_BLUE, rr, ci)
        line(x, comp["d"], C_RED, rr, ci, dash="dash")

# ── Axes ─────────────────────────────────────────────────────────────────────
axis_common = dict(showline=True, linecolor="black", linewidth=1, mirror="allticks",
                   ticks="inside", ticklen=5, tickcolor="black", showgrid=False, zeroline=False,
                   tickfont=dict(family=FONT, size=9.5, color="black"))
RD_TICKS = [-0.8, -0.6, -0.4, -0.2, 0, 0.2, 0.4, 0.6, 0.8]
F_TICKS = [0, 0.001, 0.002, 0.003, 0.004, 0.005]

for ci, colspec in enumerate(COLUMNS, start=1):
    for r in range(1, 7):
        fig.update_xaxes(range=colspec["xrange"], tickvals=colspec["ticks"],
                         ticktext=[str(t) for t in colspec["ticks"]],
                         showticklabels=(r == 6), ticklabelstandoff=5,
                         minor=dict(ticks="inside", ticklen=3, dtick=colspec["minor"], tick0=0,
                                    tickcolor="black"),
                         row=r, col=ci, **axis_common)
        if r % 2 == 1:
            fig.update_yaxes(range=[0, 0.00542], tickvals=F_TICKS,
                             ticktext=["0", "0.001", "0.002", "0.003", "0.004", "0.005"],
                             minor=dict(ticks="inside", ticklen=3, dtick=0.00025, tick0=0, tickcolor="black"),
                             showticklabels=(ci == 1), ticklabelstandoff=6,
                             row=r, col=ci, **axis_common)
        else:
            fig.update_yaxes(range=[-1, 1], tickvals=RD_TICKS,
                             ticktext=["-0.8", "-0.6", "-0.4", "-0.2", "0", "0.2", "0.4", "0.6", "0.8"],
                             minor=dict(ticks="inside", ticklen=3, dtick=0.1, tick0=0, tickcolor="black"),
                             showticklabels=(ci == 1), ticklabelstandoff=6,
                             row=r, col=ci, **axis_common)

# ── Text ─────────────────────────────────────────────────────────────────────
ann = []


def text(x, y, s, size=9.5, anchor="center", angle=0, bold=False):
    ann.append(dict(x=px(x), y=py(y), xref="paper", yref="paper", text=f"<b>{s}</b>" if bold else s,
                    showarrow=False, xanchor=anchor, yanchor="middle", textangle=angle,
                    font=dict(family=FONT, size=size, color="black")))


text(68, 25, "g1536DM", size=11.5, anchor="left", bold=True)
text(283, 25, "g1536", size=11.5, anchor="left", bold=True)
text(499, 25, "g15784", size=11.5, anchor="left", bold=True)
text(379, 155, "bands: MB simulation 1-σ")
text(380, 276.5, "relative to best-fit rotating MB")
text(380, 287, "dashed line: simulation average")
for name, yy in [("f(U)", 95), ("f(V)", 387), ("f(W)", 680)]:
    text(16, yy, f"{name} [km<sup>-1</sup> s]", size=11.5, angle=-90)
for yy in [237.5, 530, 822]:
    text(15, yy, "relative difference", size=11.5, angle=-90)
text(380, 914, "v [km/s]", size=11.5)

LEGEND = [("N-body", C_BLACK, 23.3), ("inferred SHM", C_GREEN, 34.3),
          ("MB fit", C_BLUE, 45.0), ("rotating MB fit", C_RED, 56.0)]
shapes = []
for label, colour, yy in LEGEND:
    text(685, yy, label, anchor="right")
    if label == "rotating MB fit":
        shapes.append(dict(type="rect", xref="paper", yref="paper", x0=px(687), x1=px(696),
                           y0=py(59.5), y1=py(52.5), fillcolor=B_RED, line=dict(width=0)))
    shapes.append(dict(type="line", xref="paper", yref="paper", x0=px(687.5), x1=px(695.5),
                       y0=py(yy), y1=py(yy), line=dict(color=colour, width=1.3)))

fig.update_layout(
    width=W_FIG, height=H_FIG,
    margin=dict(l=L - PAGE, r=713 - R, t=T - PAGE, b=922 - B),
    paper_bgcolor="white", plot_bgcolor="white",
    showlegend=False,
    annotations=ann, shapes=shapes,
    font=dict(family=FONT, size=10, color="black"),
)

fig.write_html("out.html")
